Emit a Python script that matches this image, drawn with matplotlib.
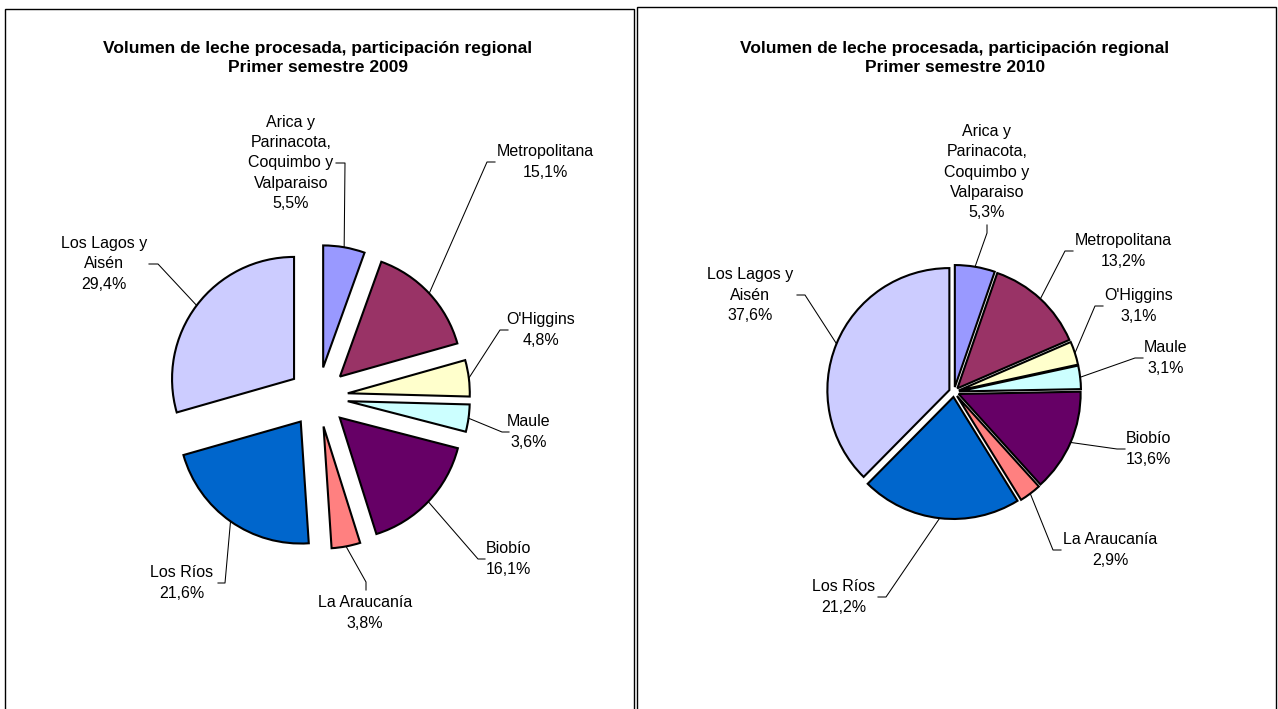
import numpy as np
import matplotlib
matplotlib.use("Agg")
import matplotlib.pyplot as plt
from matplotlib.patches import Rectangle

plt.rcParams['font.family'] = ['Liberation Sans', 'DejaVu Sans']

W, H = 1278, 709

regiones = ["Arica y\nParinacota,\nCoquimbo y\nValparaiso", "Metropolitana", "O'Higgins",
            "Maule", "Biobío", "La Araucanía", "Los Ríos", "Los Lagos y\nAisén"]
v2009 = [5.5, 15.1, 4.8, 3.6, 16.1, 3.8, 21.6, 29.4]
v2010 = [5.3, 13.2, 3.1, 3.1, 13.6, 2.9, 21.2, 37.6]
colores = ["#9999FF", "#993366", "#FFFFCC", "#CCFFFF", "#660066", "#FF8080", "#0066CC", "#CCCCFF"]
titulos = ["Volumen de leche procesada, participación regional\nPrimer semestre 2009",
           "Volumen de leche procesada, participación regional\nPrimer semestre 2010"]

# layout in image pixels (y down): text centre, leader elbow, leader end
lab2009 = [((291, 163), (345, 163), (336, 163)),
           ((545, 162), (487, 162), (495, 162)),
           ((541, 330), (500, 330), (508, 330)),
           ((529, 432), (502, 432), (509, 432)),
           ((508, 559), (478, 559), (485, 559)),
           ((365, 613), (366, 582), (366, 590)),
           ((182, 583), (225, 583), (218, 583)),
           ((104, 264), (158, 264), (149, 264))]
lab2010 = [((987, 172), (987, 233), (987, 225)),
           ((1123, 251), (1065, 251), (1073, 251)),
           ((1139, 306), (1095, 306), (1103, 306)),
           ((1166, 358), (1135, 358), (1143, 358)),
           ((1148, 449), (1117, 449), (1125, 449)),
           ((1110, 550), (1053, 550), (1061, 550)),
           ((844, 597), (886, 597), (878, 597)),
           ((750, 295), (805, 295), (797, 295))]

paneles = [dict(vals=v2009, title=titulos[0], center=(318, 397), explode=30, labs=lab2009,
                box=(5, 9, 634), tx=318),
           dict(vals=v2010, title=titulos[1], center=(954, 392), explode=5, labs=lab2010,
                box=(637, 7, 1276), tx=955)]

fig = plt.figure(figsize=(W / 100, H / 100), dpi=100)
ax = fig.add_axes([0, 0, 1, 1])

R = 122
for p in paneles:
    x0, y0, x1 = p['box']
    ax.add_patch(Rectangle((x0, -5), x1 - x0, H - y0 + 5, fill=False, edgecolor='black', lw=1.0))
    cx, cy = p['center']
    wedges, _ = ax.pie(p['vals'], explode=[p['explode']] * len(p['vals']), center=(cx, H - cy),
                       radius=R, startangle=90, counterclock=False, colors=colores,
                       wedgeprops=dict(edgecolor='black', linewidth=1.5), frame=True)
    ax.text(p['tx'], H - 58, p['title'], ha='center', va='center', fontsize=12.5,
            fontweight='bold', linespacing=1.3)
    for w, nombre, v, (tpos, elbow, end) in zip(wedges, regiones, p['vals'], p['labs']):
        ang = np.deg2rad((w.theta1 + w.theta2) / 2)
        ex, ey = w.center
        ax_, ay_ = ex + w.r * np.cos(ang), ey + w.r * np.sin(ang)
        ax.plot([ax_, elbow[0], end[0]], [ay_, H - elbow[1], H - end[1]], color='black', lw=0.75)
        txt = nombre + "\n" + f"{v:.1f}".replace('.', ',') + "%"
        ax.text(tpos[0], H - tpos[1], txt, ha='center', va='center', fontsize=11.5,
                linespacing=1.45, color='black')

ax.set_xlim(0, W)
ax.set_ylim(0, H)
ax.set_aspect('auto')
ax.axis('off')
fig.savefig('out.png', dpi=100, facecolor='white')
